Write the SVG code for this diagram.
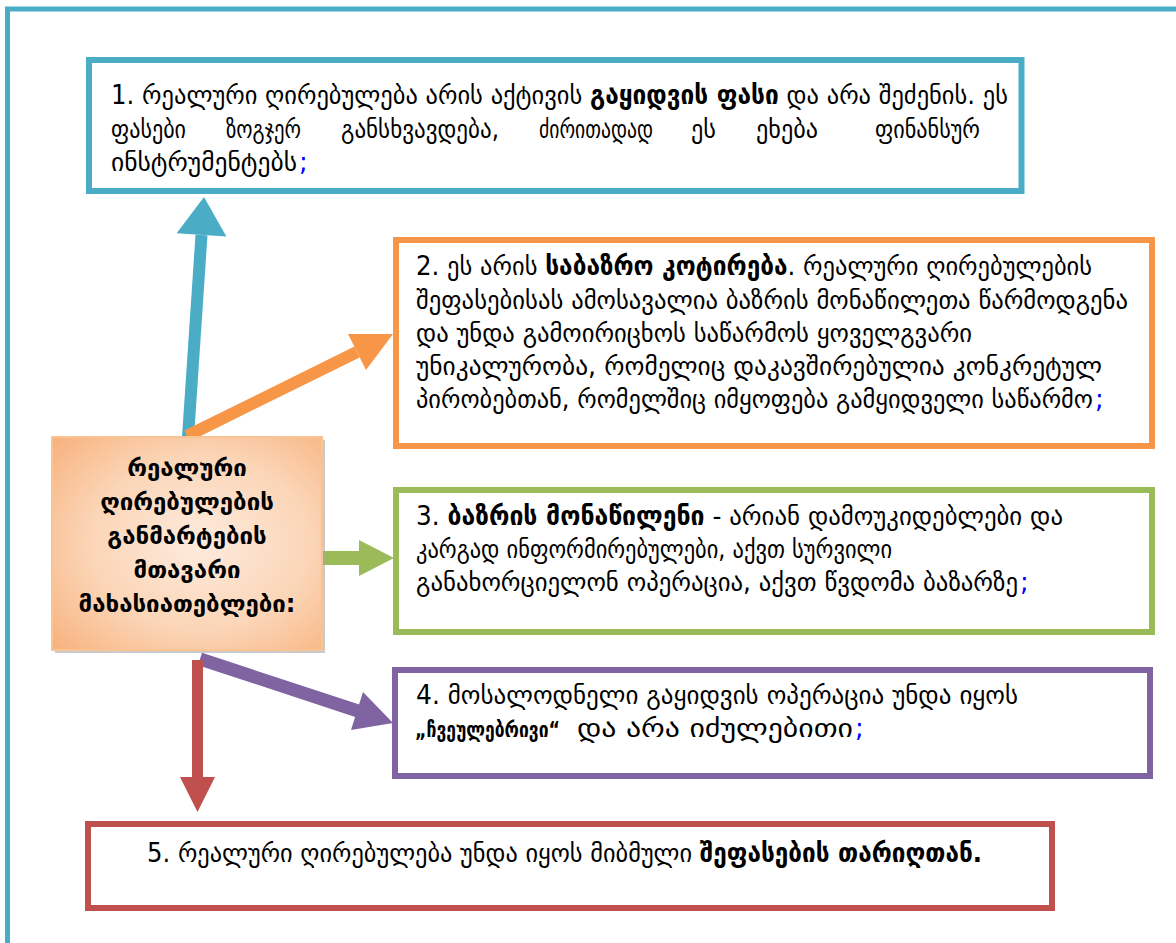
<svg xmlns="http://www.w3.org/2000/svg" width="1176" height="943" viewBox="0 0 1176 943">
<style>
.t{font-family:"DejaVu Sans",sans-serif;font-size:26px;fill:#000}
.b{font-weight:bold}
.c{font-family:"DejaVu Sans",sans-serif;font-size:24px;font-weight:bold;text-anchor:middle;fill:#000}
.semi{font-family:"DejaVu Sans",sans-serif;font-size:26px;fill:#0000ff}
.box{fill:#fff;stroke-width:6}
</style>
<defs>
<radialGradient id="peach" cx="55%" cy="50%" r="75%">
<stop offset="0" stop-color="#fdebde"/>
<stop offset="0.55" stop-color="#fbd5b6"/>
<stop offset="1" stop-color="#f7b07a"/>
</radialGradient>
</defs>
<rect x="7.5" y="9" width="1200" height="1000" fill="#fff" stroke="#4bacc6" stroke-width="5"/>

<g id="connectors">
<line x1="188" y1="437" x2="201.5" y2="235" stroke="#4bacc6" stroke-width="12"/>
<polygon points="204,197 226.4,236.6 176.6,233.2" fill="#4bacc6"/>
<line x1="187" y1="436" x2="357" y2="352" stroke="#f79646" stroke-width="12"/>
<polygon points="393,334 366,370 348,334" fill="#f79646"/>
<line x1="322" y1="558" x2="362" y2="558" stroke="#9bbb59" stroke-width="14"/>
<polygon points="394,558 359,540 359,576" fill="#9bbb59"/>
<line x1="200" y1="659" x2="358" y2="711" stroke="#8064a2" stroke-width="13"/>
<polygon points="393,723 351,730 363,692" fill="#8064a2"/>
<line x1="197.5" y1="660" x2="197.5" y2="780" stroke="#c0504d" stroke-width="11"/>
<polygon points="180,777 215,777 197.5,812" fill="#c0504d"/>
</g>

<g id="center">
<rect x="55" y="440" width="270" height="213" fill="#a6a6a6" opacity="0.6"/>
<rect x="52" y="437" width="270" height="213" fill="url(#peach)" stroke="#f9c394" stroke-width="2"/>
<text class="c" x="187" y="476">რეალური</text>
<text class="c" x="187" y="510">ღირებულების</text>
<text class="c" x="187" y="544">განმარტების</text>
<text class="c" x="187" y="578">მთავარი</text>
<text class="c" x="187" y="612">მახასიათებლები:</text>
</g>

<g id="box1">
<rect class="box" x="89" y="60" width="932.5" height="131" stroke="#4bacc6"/>
<text class="t" x="111" y="104" textLength="897" lengthAdjust="spacingAndGlyphs">1. რეალური ღირებულება არის აქტივის <tspan class="b">გაყიდვის  ფასი</tspan> და არა შეძენის. ეს</text>
<text class="t" x="111" y="138" textLength="75" lengthAdjust="spacingAndGlyphs">ფასები</text>
<text class="t" x="226" y="138" textLength="75" lengthAdjust="spacingAndGlyphs">ზოგჯერ</text>
<text class="t" x="341" y="138" textLength="158" lengthAdjust="spacingAndGlyphs">განსხვავდება,</text>
<text class="t" x="539" y="138" textLength="114" lengthAdjust="spacingAndGlyphs">ძირითადად</text>
<text class="t" x="691" y="138" textLength="25" lengthAdjust="spacingAndGlyphs">ეს</text>
<text class="t" x="756" y="138" textLength="62" lengthAdjust="spacingAndGlyphs">ეხება</text>
<text class="t" x="875" y="138" textLength="105" lengthAdjust="spacingAndGlyphs">ფინანსურ</text>
<text class="t" x="111" y="171" textLength="186" lengthAdjust="spacingAndGlyphs">ინსტრუმენტებს</text>
<text class="semi" x="299" y="171">;</text>
</g>

<g id="box2">
<rect class="box" x="396" y="240" width="756" height="206" stroke="#f79646"/>
<text class="t" x="416" y="275" textLength="676" lengthAdjust="spacingAndGlyphs">2.  ეს არის <tspan class="b">საბაზრო კოტირება</tspan>. რეალური ღირებულების</text>
<text class="t" x="416" y="309" textLength="712" lengthAdjust="spacingAndGlyphs">შეფასებისას  ამოსავალია ბაზრის მონაწილეთა წარმოდგენა</text>
<text class="t" x="416" y="342" textLength="556" lengthAdjust="spacingAndGlyphs">და უნდა გამოირიცხოს საწარმოს ყოველგვარი</text>
<text class="t" x="416" y="375" textLength="686" lengthAdjust="spacingAndGlyphs">უნიკალურობა, რომელიც დაკავშირებულია კონკრეტულ</text>
<text class="t" x="416" y="408" textLength="677" lengthAdjust="spacingAndGlyphs">პირობებთან, რომელშიც იმყოფება გამყიდველი საწარმო</text>
<text class="semi" x="1095" y="408">;</text>
</g>

<g id="box3">
<rect class="box" x="396" y="490" width="756" height="142" stroke="#9bbb59"/>
<text class="t" x="416" y="525" textLength="647" lengthAdjust="spacingAndGlyphs">3.  <tspan class="b">ბაზრის მონაწილენი</tspan> - არიან დამოუკიდებლები და</text>
<text class="t" x="416" y="558" textLength="476" lengthAdjust="spacingAndGlyphs">კარგად ინფორმირებულები, აქვთ სურვილი</text>
<text class="t" x="416" y="591" textLength="602" lengthAdjust="spacingAndGlyphs">განახორციელონ ოპერაცია, აქვთ წვდომა ბაზარზე</text>
<text class="semi" x="1020" y="591">;</text>
</g>

<g id="box4">
<rect class="box" x="395" y="670" width="755" height="106" stroke="#8064a2"/>
<text class="t" x="416" y="704" textLength="602" lengthAdjust="spacingAndGlyphs">4. მოსალოდნელი გაყიდვის ოპერაცია უნდა იყოს</text>
<text class="t b" x="415" y="737" style="font-size:22px" textLength="145" lengthAdjust="spacingAndGlyphs">„ჩვეულებრივი“</text>
<text class="t" x="577" y="737" textLength="276" lengthAdjust="spacingAndGlyphs">და არა იძულებითი</text>
<text class="semi" x="855" y="737">;</text>
</g>

<g id="box5">
<rect class="box" x="88" y="824" width="964" height="84" stroke="#c0504d"/>
<text class="t" x="147" y="862" textLength="835" lengthAdjust="spacingAndGlyphs">5. რეალური ღირებულება უნდა იყოს მიბმული <tspan class="b">შეფასების თარიღთან.</tspan></text>
</g>
</svg>
